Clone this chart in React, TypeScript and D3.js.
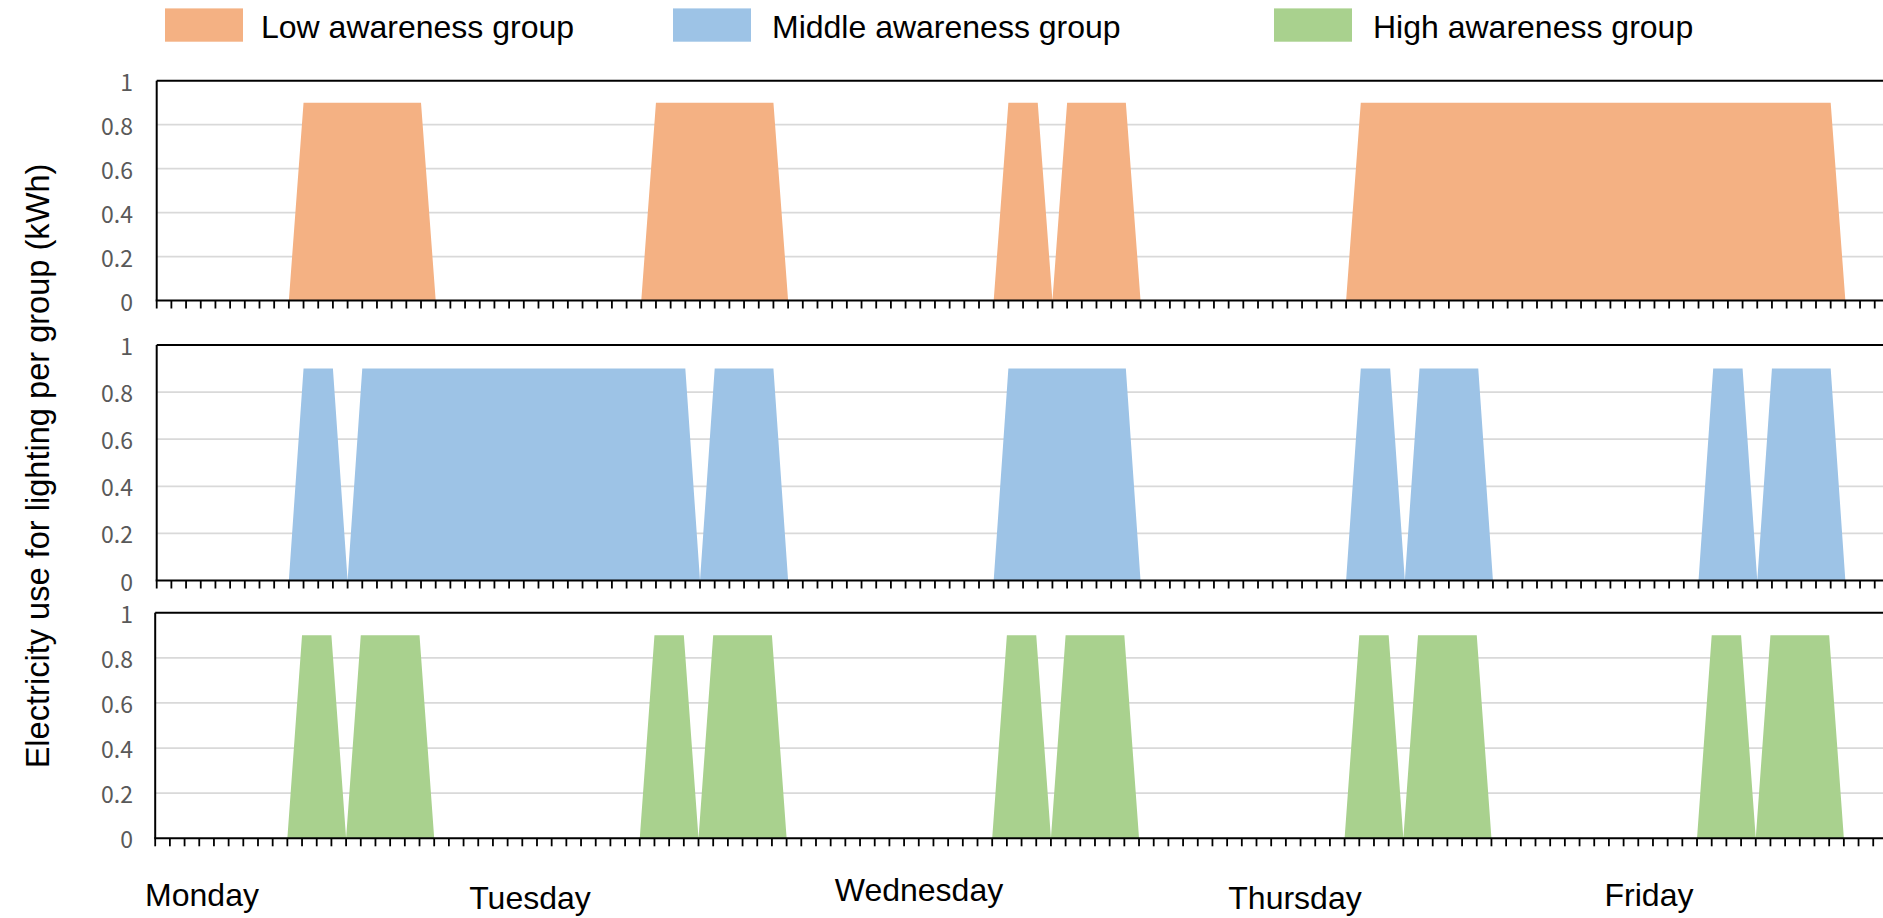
import React from "react";
import * as d3 from "d3";

// ---- data (hourly, 24 values per day) ----
const days = ["Monday", "Tuesday", "Wednesday", "Thursday", "Friday"];
const groupNames = ["Low awareness group", "Middle awareness group", "High awareness group"];
const groupColors = ["#F4B183", "#9DC3E6", "#A9D18E"];
const yTicks = [0, 0.2, 0.4, 0.6, 0.8, 1];
const yTickLabels = ["0", "0.2", "0.4", "0.6", "0.8", "1"];

const lowMon = [0,0,0,0,0,0,0,0,0,0,0.9,0.9,0.9,0.9,0.9,0.9,0.9,0.9,0.9,0,0,0,0,0];
const lowTue = [0,0,0,0,0,0,0,0,0,0,0.9,0.9,0.9,0.9,0.9,0.9,0.9,0.9,0.9,0,0,0,0,0];
const lowWed = [0,0,0,0,0,0,0,0,0,0,0.9,0.9,0.9,0,0.9,0.9,0.9,0.9,0.9,0,0,0,0,0];
const lowThu = [0,0,0,0,0,0,0,0,0,0,0.9,0.9,0.9,0.9,0.9,0.9,0.9,0.9,0.9,0.9,0.9,0.9,0.9,0.9];
const lowFri = [0.9,0.9,0.9,0.9,0.9,0.9,0.9,0.9,0.9,0.9,0.9,0.9,0.9,0.9,0.9,0.9,0.9,0.9,0.9,0,0,0,0,0];

const midMon = [0,0,0,0,0,0,0,0,0,0,0.9,0.9,0.9,0,0.9,0.9,0.9,0.9,0.9,0.9,0.9,0.9,0.9,0.9];
const midTue = [0.9,0.9,0.9,0.9,0.9,0.9,0.9,0.9,0.9,0.9,0.9,0.9,0.9,0,0.9,0.9,0.9,0.9,0.9,0,0,0,0,0];
const midWed = [0,0,0,0,0,0,0,0,0,0,0.9,0.9,0.9,0.9,0.9,0.9,0.9,0.9,0.9,0,0,0,0,0];
const midThu = [0,0,0,0,0,0,0,0,0,0,0.9,0.9,0.9,0,0.9,0.9,0.9,0.9,0.9,0,0,0,0,0];
const midFri = [0,0,0,0,0,0,0,0,0,0,0.9,0.9,0.9,0,0.9,0.9,0.9,0.9,0.9,0,0,0,0,0];

const highMon = [0,0,0,0,0,0,0,0,0,0,0.9,0.9,0.9,0,0.9,0.9,0.9,0.9,0.9,0,0,0,0,0];
const highTue = [0,0,0,0,0,0,0,0,0,0,0.9,0.9,0.9,0,0.9,0.9,0.9,0.9,0.9,0,0,0,0,0];
const highWed = [0,0,0,0,0,0,0,0,0,0,0.9,0.9,0.9,0,0.9,0.9,0.9,0.9,0.9,0,0,0,0,0];
const highThu = [0,0,0,0,0,0,0,0,0,0,0.9,0.9,0.9,0,0.9,0.9,0.9,0.9,0.9,0,0,0,0,0];
const highFri = [0,0,0,0,0,0,0,0,0,0,0.9,0.9,0.9,0,0.9,0.9,0.9,0.9,0.9,0,0,0,0,0];

const lowSeries = [...lowMon, ...lowTue, ...lowWed, ...lowThu, ...lowFri];
const midSeries = [...midMon, ...midTue, ...midWed, ...midThu, ...midFri];
const highSeries = [...highMon, ...highTue, ...highWed, ...highThu, ...highFri];
const allSeries = [lowSeries, midSeries, highSeries];

// ---- layout ----
const W = 1883;
const H = 918;
const STEP = 14.684;
const panels = [
  { left: 156.7, top: 80.7, bottom: 300.5 },
  { left: 156.7, top: 345, bottom: 580.5 },
  { left: 155.2, top: 612.7, bottom: 838.3 },
];
const dayLabelPos = [
  { x: 202, y: 906 },
  { x: 530, y: 909 },
  { x: 919, y: 901 },
  { x: 1295, y: 909 },
  { x: 1649, y: 906 },
];
const legendPos = [
  { sx: 165, tx: 261 },
  { sx: 673, tx: 772 },
  { sx: 1274, tx: 1373 },
];

export default function App() {
  const n = lowSeries.length;
  return (
    <svg
      width={W}
      height={H}
      style={{ position: "absolute", left: 0, top: 0, background: "#fff" }}
    >
      <rect x={0} y={0} width={W} height={H} fill="#fff" />
      {/* legend */}
      {groupNames.map((g, i) => (
        <g key={g}>
          <rect x={legendPos[i].sx} y={8.4} width={78} height={33.3} fill={groupColors[i]} />
          <text
            x={legendPos[i].tx}
            y={37.5}
            fontFamily="'Liberation Sans', Arial, sans-serif"
            fontSize={32}
            fill="#000"
          >
            {g}
          </text>
        </g>
      ))}
      {/* y title */}
      <text
        transform={`translate(37,466) rotate(-90)`}
        textAnchor="middle"
        dominantBaseline="central"
        fontFamily="'Liberation Sans', Arial, sans-serif"
        fontSize={32.6}
        fill="#000"
      >
        Electricity use for lighting per group (kWh)
      </text>
      {panels.map((p, pi) => {
        const x = d3.scaleLinear().domain([0, n - 1]).range([p.left, p.left + (n - 1) * STEP]);
        const y = d3.scaleLinear().domain([0, 1]).range([p.bottom, p.top]);
        const area = d3
          .area<number>()
          .x((_, i) => x(i))
          .y0(y(0))
          .y1((d) => y(d));
        const idx = d3.range(n);
        return (
          <g key={pi}>
            {yTicks.slice(1, -1).map((t) => (
              <line key={t} x1={p.left} x2={W + 40} y1={y(t)} y2={y(t)} stroke="#D9D9D9" strokeWidth={1.7} />
            ))}
            <path d={area(allSeries[pi]) || ""} fill={groupColors[pi]} />
            {yTicks.map((t, ti) => (
              <text
                key={t}
                x={133}
                y={y(t)}
                textAnchor="end"
                dominantBaseline="central"
                fontFamily="'Noto Sans CJK JP', 'Noto Sans', sans-serif"
                fontSize={23}
                fill="#595959"
              >
                {yTickLabels[ti]}
              </text>
            ))}
            {/* frame */}
            <line x1={p.left} x2={W + 40} y1={y(1)} y2={y(1)} stroke="#000" strokeWidth={2} />
            <line x1={p.left} x2={p.left} y1={y(1)} y2={y(0)} stroke="#000" strokeWidth={2} />
            <line x1={p.left - 1} x2={W + 40} y1={y(0)} y2={y(0)} stroke="#000" strokeWidth={2} />
            {idx.map((i) => (
              <line key={i} x1={x(i)} x2={x(i)} y1={y(0)} y2={y(0) + 8} stroke="#000" strokeWidth={1.8} />
            ))}
          </g>
        );
      })}
      {days.map((d, i) => (
        <text
          key={d}
          x={dayLabelPos[i].x}
          y={dayLabelPos[i].y}
          textAnchor="middle"
          fontFamily="'Liberation Sans', Arial, sans-serif"
          fontSize={32}
          fill="#000"
        >
          {d}
        </text>
      ))}
    </svg>
  );
}
